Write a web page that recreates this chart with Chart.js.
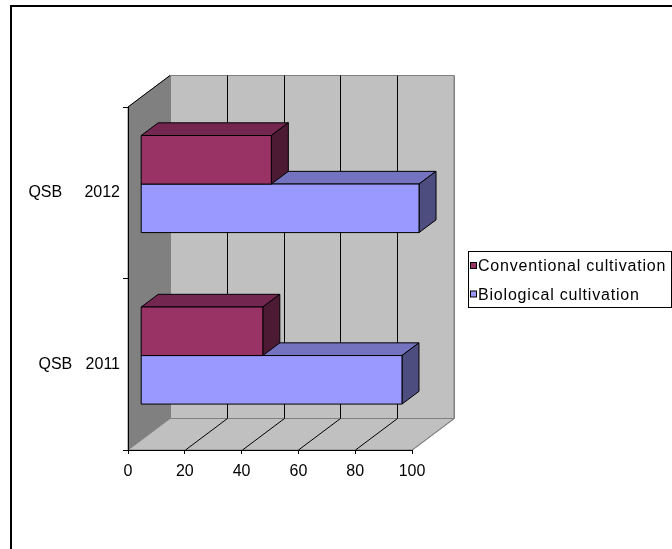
<!DOCTYPE html>
<html>
<head>
<meta charset="utf-8">
<script src="https://cdn.jsdelivr.net/npm/chart.js@4.4.1/dist/chart.umd.min.js"></script>
<style>
  html, body { margin: 0; padding: 0; background: #fff; }
  #wrap { width: 672px; height: 549px; position: relative; }
</style>
</head>
<body>
<div id="wrap"><canvas id="c" width="672" height="549"></canvas></div>
<script>
// Categories (top to bottom), series and value-axis ticks
const categories = ['QSB     2012', 'QSB   2011'];
const seriesNames = ['Conventional cultivation', 'Biological cultivation'];
const conventional = [46, 43];
const biological = [98, 92];
const xTicks = [0, 20, 40, 60, 80, 100];

// Face colours of each series: front, top, side
const palette = [
  { front: '#993366', top: '#732650', side: '#4d1a33' },
  { front: '#9999ff', top: '#7373bf', side: '#4d4d80' }
];

const FONT = 'Liberation Sans, Arial, sans-serif';
// 3D projection: offset of the back wall, of the bar front face, and bar depth
const WALL = { x: 42, y: -31.5 };
const BAR_FRONT = { x: 12.7, y: -8.7 };
const BAR_DEPTH = { x: 17, y: -12.7 };

function poly(ctx, pts, fill, stroke) {
  ctx.beginPath();
  ctx.moveTo(pts[0][0], pts[0][1]);
  for (let i = 1; i < pts.length; i++) ctx.lineTo(pts[i][0], pts[i][1]);
  ctx.closePath();
  if (fill) { ctx.fillStyle = fill; ctx.fill(); }
  if (stroke) { ctx.strokeStyle = stroke; ctx.lineWidth = 1; ctx.stroke(); }
}

function line(ctx, x1, y1, x2, y2, color) {
  ctx.beginPath();
  ctx.moveTo(x1, y1);
  ctx.lineTo(x2, y2);
  ctx.strokeStyle = color;
  ctx.lineWidth = 1;
  ctx.stroke();
}

const box3d = {
  id: 'box3d',
  beforeDraw(chart) {
    const ctx = chart.ctx;
    const { left: L, right: R, top: T, bottom: B } = chart.chartArea;
    const xs = chart.scales.x;
    const wx = WALL.x, wy = WALL.y;
    ctx.save();
    // outer frame
    ctx.strokeStyle = '#000';
    ctx.lineWidth = 2;
    ctx.strokeRect(11, 6, 800, 700);
    // side wall
    poly(ctx, [[L, T], [L + wx, T + wy], [L + wx, B + wy], [L, B]], '#808080', '#808080');
    // back wall
    poly(ctx, [[L + wx, T + wy], [R + wx, T + wy], [R + wx, B + wy], [L + wx, B + wy]], '#c0c0c0', '#808080');
    // floor
    poly(ctx, [[L, B], [L + wx, B + wy], [R + wx, B + wy], [R, B]], '#c0c0c0', '#808080');
    // gridlines on back wall and floor
    xTicks.forEach((v, i) => {
      const px = Math.round(xs.getPixelForValue(v)) + 0.5;
      const edge = (i === 0 || i === xTicks.length - 1);
      const c = edge ? '#808080' : '#000';
      line(ctx, px + wx, T + wy, px + wx, B + wy, c);
      if (i > 0) line(ctx, px, B, px + wx, B + wy, c);
    });
    // top edge of side wall
    line(ctx, L, T, L + wx, T + wy, '#000');
    ctx.restore();
  },
  beforeDatasetDraw() {
    // bars are drawn as 3D boxes after all datasets
    return false;
  },
  afterDatasetsDraw(chart) {
    const ctx = chart.ctx;
    ctx.save();
    ctx.lineJoin = 'miter';
    const metas = chart.data.datasets.map((d, i) => chart.getDatasetMeta(i));
    for (let k = 0; k < categories.length; k++) {
      // lower series first, so the upper one overlaps its top face
      for (let d = metas.length - 1; d >= 0; d--) {
        const el = metas[d].data[k];
        const p = el.getProps(['x', 'y', 'base', 'height'], true);
        const col = palette[d];
        const x0 = p.base + BAR_FRONT.x, x1 = p.x + BAR_FRONT.x;
        const yT = p.y - p.height / 2 + BAR_FRONT.y, yB = p.y + p.height / 2 + BAR_FRONT.y;
        const bx = BAR_DEPTH.x, by = BAR_DEPTH.y;
        poly(ctx, [[x0, yT], [x1, yT], [x1 + bx, yT + by], [x0 + bx, yT + by]], col.top, '#000');
        poly(ctx, [[x1, yT], [x1 + bx, yT + by], [x1 + bx, yB + by], [x1, yB]], col.side, '#000');
        poly(ctx, [[x0, yT], [x1, yT], [x1, yB], [x0, yB]], col.front, '#000');
      }
    }
    ctx.restore();
  },
  afterDraw(chart) {
    // legend
    const ctx = chart.ctx;
    ctx.save();
    ctx.strokeStyle = '#000';
    ctx.lineWidth = 1;
    ctx.strokeRect(468.5, 251.5, 203, 56);
    ctx.font = '16px ' + FONT;
    ctx.letterSpacing = '0.8px';
    ctx.textBaseline = 'middle';
    ctx.fillStyle = '#000';
    chart.data.datasets.forEach((ds, i) => {
      const cy = 266 + i * 28.5;
      ctx.fillStyle = palette[i].front;
      ctx.fillRect(470.5, cy - 3.5, 6, 6);
      ctx.strokeStyle = '#000';
      ctx.strokeRect(470.5, cy - 3.5, 6, 6);
      ctx.fillStyle = '#000';
      ctx.fillText(ds.label, 478, cy + 1);
    });
    ctx.restore();
  }
};

new Chart(document.getElementById('c'), {
  type: 'bar',
  data: {
    labels: categories,
    datasets: [
      { label: seriesNames[0], data: conventional, backgroundColor: palette[0].front },
      { label: seriesNames[1], data: biological, backgroundColor: palette[1].front }
    ]
  },
  options: {
    indexAxis: 'y',
    responsive: false,
    animation: false,
    events: [],
    categoryPercentage: 0.566,
    barPercentage: 1,
    layout: { padding: { left: 0, top: 107, right: 260, bottom: 0 } },
    plugins: { legend: { display: false }, tooltip: { enabled: false } },
    scales: {
      x: {
        type: 'linear',
        min: 0,
        max: 100,
        afterBuildTicks(s) { s.ticks = xTicks.map(v => ({ value: v })); },
        afterFit(s) { s.height = 99; },
        grid: { drawOnChartArea: false, drawTicks: true, tickLength: 4, color: '#000' },
        border: { display: true, color: '#000' },
        ticks: { color: '#000', padding: 8, maxRotation: 0, autoSkip: false, font: { family: FONT, size: 16 } }
      },
      y: {
        type: 'category',
        afterFit(s) { s.width = 128; },
        grid: { drawOnChartArea: false, drawTicks: true, tickLength: 5, color: '#000', offset: true },
        border: { display: true, color: '#000' },
        ticks: { color: '#000', padding: 3, font: { family: FONT, size: 16 } }
      }
    }
  },
  plugins: [box3d]
});
</script>
</body>
</html>
